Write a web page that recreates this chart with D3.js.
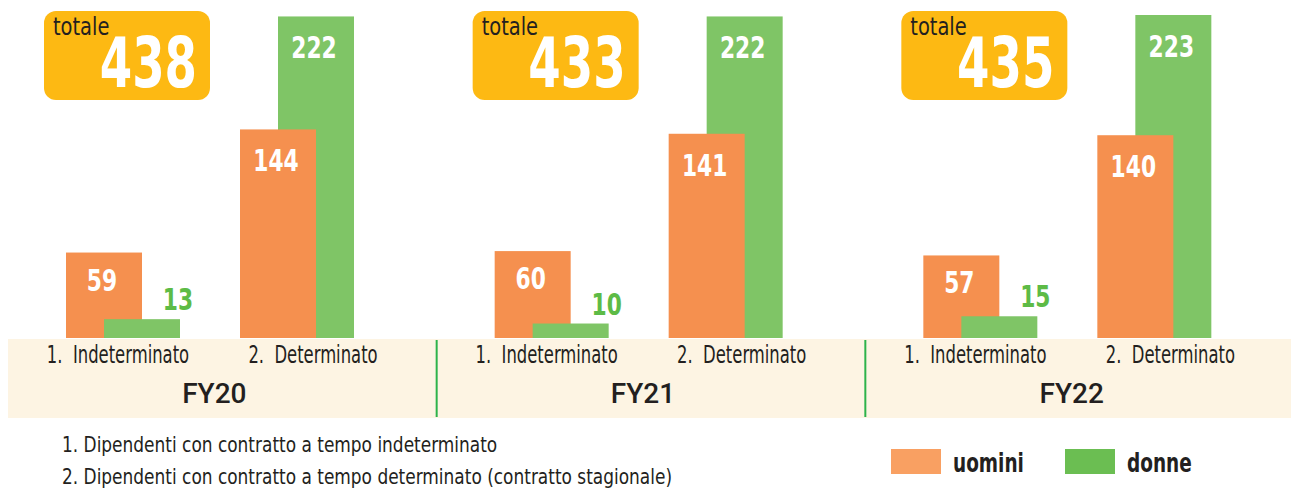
<!DOCTYPE html>
<html>
<head>
<meta charset="utf-8">
<script src="https://cdn.jsdelivr.net/npm/d3@7"></script>
<style>
    body { margin: 0; background: #fff; }
    text { font-family: 'Liberation Sans Narrow', 'DejaVu Sans Condensed', sans-serif; }
</style>
</head>
<body>
<svg id="chart" width="1291" height="489"></svg>
<script>
'use strict';

let years = ['FY20', 'FY21', 'FY22'];
let categories = ['1.  Indeterminato', '2.  Determinato'];
let uomini = [[59, 144], [60, 141], [57, 140]];
let donne = [[13, 222], [10, 222], [15, 223]];
let totals = [438, 433, 435];
let notes = [
    '1. Dipendenti con contratto a tempo indeterminato',
    '2. Dipendenti con contratto a tempo determinato (contratto stagionale)',
];
let legendLabels = ['uomini', 'donne'];

let colOrange = '#F5904F';
let colGreen = '#7FC566';
let colGreenText = '#5DBB46';
let colDark = '#231F20';

// no condensed face installed: squeeze text horizontally
function squeeze(sel, k) {
    sel.each(function() {
        let w = this.getComputedTextLength();
        d3.select(this)
            .attr('textLength', w * k)
            .attr('lengthAdjust', 'spacingAndGlyphs');
    });
}

let svg = d3.select('#chart');

let panelX = d3.scaleBand().domain(years).range([8, 1294]);
let groupX = d3.scalePoint().domain(categories).range([115, 289]);
let labelX = d3.scalePoint().domain(categories).range([110, 305]);
let y = d3.scaleLinear().domain([0, 223]).range([338, 15]);
let barW = 76;

// bottom band
svg.append('rect')
    .attr('x', 8).attr('y', 339)
    .attr('width', 1283).attr('height', 79)
    .attr('fill', '#FDF4E3');

years.forEach(function(yr, i) {
    let x0 = panelX(yr);
    let g = svg.append('g').attr('transform', 'translate(' + x0 + ',0)');

    if (i > 0) {
        g.append('line')
            .attr('x1', 0).attr('x2', 0)
            .attr('y1', 340).attr('y2', 417)
            .attr('stroke', '#2DB34A').attr('stroke-width', 2);
    }

    categories.forEach(function(cat, j) {
        let bars = [
            {v: uomini[i][j], dx: -57, c: colOrange},
            {v: donne[i][j], dx: -19, c: colGreen},
        ];
        // taller bar sits behind
        bars.sort(function(a, b) {
            return b.v - a.v;
        });
        let cx = groupX(cat);
        bars.forEach(function(b) {
            g.append('rect')
                .attr('x', cx + b.dx)
                .attr('y', y(b.v))
                .attr('width', barW)
                .attr('height', y(0) - y(b.v))
                .attr('fill', b.c);
        });
        bars.forEach(function(b) {
            let h = y(0) - y(b.v);
            let lbl = g.append('text')
                .attr('font-weight', 'bold')
                .attr('font-size', '31px')
                .attr('text-anchor', 'middle')
                .text(b.v);
            if (h > 45) {
                lbl.attr('x', cx + b.dx + barW / 2 - 2)
                    .attr('y', y(b.v) + (h > 120 ? 42 : 38))
                    .attr('fill', '#fff');
            } else {
                lbl.attr('x', cx + b.dx + barW - 2)
                    .attr('y', y(b.v) - 9)
                    .attr('fill', colGreenText);
            }
            squeeze(lbl, 0.78);
        });

        let cl = g.append('text')
            .attr('x', labelX(cat))
            .attr('y', 363)
            .attr('text-anchor', 'middle')
            .attr('font-size', '24px')
            .attr('fill', colDark)
            .style('white-space', 'pre')
            .text(cat);
        squeeze(cl, 0.76);
    });

    g.append('text')
        .attr('x', panelX.bandwidth() / 2 - 8)
        .attr('y', 403)
        .attr('text-anchor', 'middle')
        .attr('font-size', '28px')
        .attr('font-weight', 500)
        .attr('fill', colDark)
        .style('font-family', 'Roboto, sans-serif')
        .text(yr);

    // totale box
    let box = g.append('g').attr('transform', 'translate(36,11)');
    box.append('rect')
        .attr('width', 166).attr('height', 89)
        .attr('rx', 12)
        .attr('fill', '#FDB913');
    let tl = box.append('text')
        .attr('x', 9).attr('y', 24)
        .attr('font-size', '24px')
        .attr('fill', colDark)
        .text('totale');
    squeeze(tl, 0.9);
    let tv = box.append('text')
        .attr('x', 153).attr('y', 76)
        .attr('text-anchor', 'end')
        .attr('font-size', '70px')
        .attr('font-weight', 'bold')
        .attr('fill', '#fff')
        .text(totals[i]);
    squeeze(tv, 0.74);
});

// footnotes
let nt = svg.selectAll('text.note')
    .data(notes)
    .enter().append('text')
    .attr('class', 'note')
    .attr('x', 62)
    .attr('y', function(d, i) {
        return 452 + i * 32;
    })
    .attr('font-size', '20.5px')
    .attr('fill', colDark)
    .text(function(d) {
        return d;
    });
squeeze(nt, 0.92);

// legend
let legendX = [891, 1065];
let legendCol = ['#F9A062', '#6BBE52'];
legendLabels.forEach(function(l, i) {
    svg.append('rect')
        .attr('x', legendX[i]).attr('y', 449)
        .attr('width', 50).attr('height', 25)
        .attr('fill', legendCol[i]);
    let lt = svg.append('text')
        .attr('x', legendX[i] + 62).attr('y', 472)
        .attr('font-size', '26px')
        .attr('font-weight', 'bold')
        .attr('fill', colDark)
        .text(l);
    squeeze(lt, 0.79);
});
</script>
</body>
</html>
